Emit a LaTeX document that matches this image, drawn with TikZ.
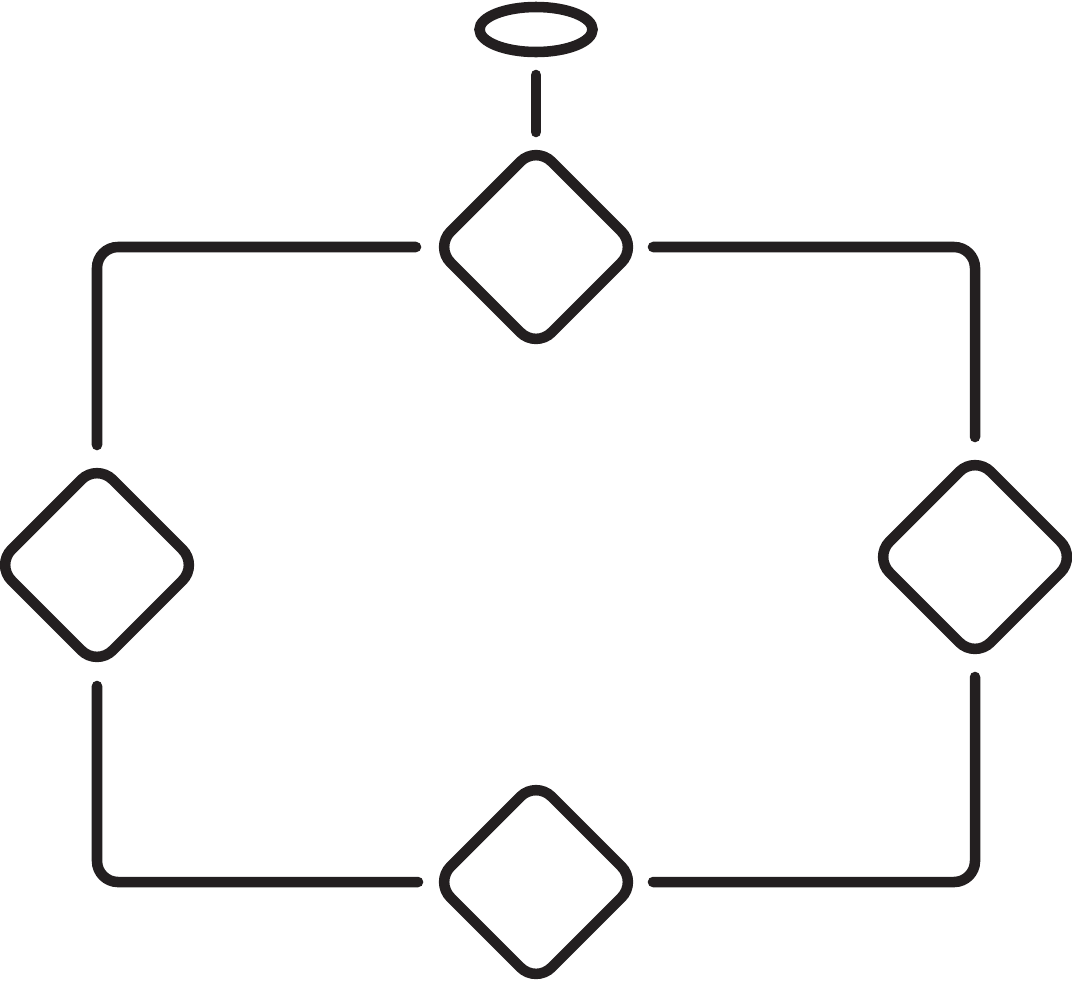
\documentclass[tikz,border=0pt]{standalone}
\usepackage[dvipsnames]{xcolor}
\usepackage{tikz}
\usetikzlibrary{shapes.geometric,calc}
\definecolor{ink}{HTML}{231F20}
\tikzset{
  decision/.style={rectangle, rotate=45, draw=ink, line width=3pt, rounded corners=2.2mm,
    minimum width=1.428cm, minimum height=1.428cm, inner sep=0pt, outer sep=0pt},
  ring/.style={ellipse, draw=ink, line width=3pt, minimum width=1.13cm,
    minimum height=0.45cm, inner sep=0pt},
  link/.style={draw=ink, line width=3pt, line cap=round, rounded corners=2.1mm,
    shorten <=1.9mm, shorten >=1.9mm}
}
\begin{document}
\begin{tikzpicture}
  \useasboundingbox (0,0) rectangle (10.72,9.80);
  \node[ring] (halo) at (5.36,9.505) {};
  \node[decision] (top) at (5.36,7.33) {};
  \node[decision] (left) at (0.97,4.15) {};
  \node[decision] (right) at (9.75,4.23) {};
  \node[decision] (bottom) at (5.36,0.98) {};
  % stem under the ellipse
  \draw[link, shorten <=1.77mm, shorten >=1.4mm] (halo.south) -- (top.north east);
  \draw[link] (top.north west) -| (left.north east);
  \draw[link, shorten <=1.6mm] (top.south east) -| (right.north east);
  \draw[link, shorten <=2mm, shorten >=1.7mm] (left.south west) |- (bottom.north west);
  \draw[link, shorten >=1.6mm] (right.south west) |- (bottom.south east);
\end{tikzpicture}
\end{document}
